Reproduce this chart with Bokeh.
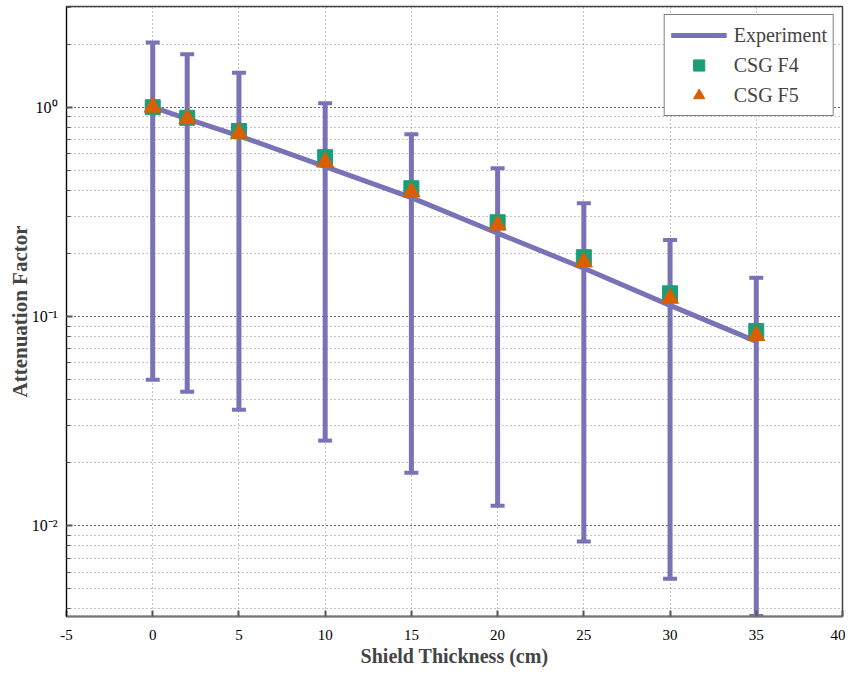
from bokeh.plotting import figure
from bokeh.models import (ColumnDataSource, Whisker, TeeHead, LogTicker, SingleIntervalTicker,
                          CustomJSTickFormatter, Legend, LegendItem, Range1d)
from bokeh.embed import file_html
from bokeh.resources import INLINE

thickness = [0, 2, 5, 10, 15, 20, 25, 30, 35]
experiment = [1.0, 0.88, 0.73, 0.52, 0.37, 0.25, 0.17, 0.113, 0.076]
err_upper = [2.04, 1.79, 1.46, 1.045, 0.743, 0.511, 0.348, 0.232, 0.153]
err_lower = [0.0498, 0.0436, 0.0358, 0.0255, 0.0179, 0.01245, 0.00839, 0.00558, 0.0037]
csg_f4 = [1.0, 0.89, 0.77, 0.577, 0.41, 0.282, 0.192, 0.129, 0.0853]
csg_f5 = [1.0, 0.88, 0.75, 0.546, 0.393, 0.273, 0.182, 0.122, 0.081]

PURPLE = "#7873b7"
GREEN = "#1b9e77"
ORANGE = "#d95f02"
FONT = "Liberation Serif"

src = ColumnDataSource(dict(x=thickness, exp=experiment, up=err_upper, lo=err_lower,
                            f4=csg_f4, f5=csg_f5))

p = figure(output_backend="svg", toolbar_location=None, y_axis_type="log",
           frame_width=776, frame_height=610,
           x_range=Range1d(-5, 40), y_range=Range1d(0.00368, 3.03),
           min_border_left=66, min_border_right=3, min_border_top=6, min_border_bottom=0)
p.outline_line_color = "#444444"
p.outline_line_width = 1.5
p.background_fill_color = "white"
p.border_fill_color = "white"

whisk = Whisker(base="x", upper="up", lower="lo", source=src,
                line_color=PURPLE, line_width=5,
                upper_head=TeeHead(size=14, line_color=PURPLE, line_width=4),
                lower_head=TeeHead(size=14, line_color=PURPLE, line_width=4))
p.add_layout(whisk)

r_exp = p.line("x", "exp", source=src, line_color=PURPLE, line_width=5)
r_f4 = p.scatter("x", "f4", source=src, marker="square", size=15,
                 fill_color=GREEN, line_color=GREEN)
r_f5 = p.scatter("x", "f5", source=src, marker="triangle", size=17,
                 fill_color=ORANGE, line_color=ORANGE)

# axes
xt = SingleIntervalTicker(interval=5, num_minor_ticks=0)
p.xaxis.ticker = xt
p.xgrid.ticker = xt
yt = LogTicker(num_minor_ticks=10)
p.yaxis.ticker = yt
p.ygrid.ticker = yt

p.xaxis.formatter = CustomJSTickFormatter(code="return String(Math.round(tick));")
p.yaxis.formatter = CustomJSTickFormatter(code="""
const e = Math.round(Math.log10(tick));
const sup = {'0':'\u2070','1':'\u00b9','2':'\u00b2','3':'\u00b3','-':'\u207b'};
return '10' + String(e).split('').map(c => sup[c]).join('');
""")

for ax in p.xaxis:
    ax.axis_label = "Shield Thickness (cm)"
    ax.axis_line_color = "#777777"
    ax.axis_line_width = 2
    ax.major_tick_in = 6
    ax.major_tick_out = 0
    ax.major_tick_line_color = "#555555"
    ax.major_tick_line_width = 2
    ax.major_label_text_font = FONT
    ax.major_label_text_font_size = "15px"
    ax.major_label_text_color = "black"
    ax.major_label_standoff = 13
    ax.axis_label_text_font = FONT
    ax.axis_label_text_font_size = "20px"
    ax.axis_label_text_font_style = "bold"
    ax.axis_label_standoff = 2

for ax in p.yaxis:
    ax.axis_label = "Attenuation Factor"
    ax.axis_line_color = "black"
    ax.axis_line_width = 1
    ax.major_tick_in = 6
    ax.major_tick_out = 0
    ax.minor_tick_in = 4
    ax.minor_tick_out = 0
    ax.major_tick_line_color = "#555555"
    ax.minor_tick_line_color = "#555555"
    ax.major_tick_line_width = 2
    ax.major_label_text_font = FONT
    ax.major_label_text_font_size = "16px"
    ax.major_label_text_color = "black"
    ax.major_label_standoff = 9
    ax.axis_label_text_font = FONT
    ax.axis_label_text_font_size = "21px"
    ax.axis_label_text_font_style = "bold"
    ax.axis_label_standoff = -3

# grid
p.xgrid.grid_line_color = "#888888"
p.xgrid.grid_line_dash = "1 3"
p.ygrid.grid_line_color = "#222222"
p.ygrid.grid_line_dash = "1 3"
p.ygrid.minor_grid_line_color = "#888888"
p.ygrid.minor_grid_line_dash = "1 3"

legend = Legend(items=[LegendItem(label="Experiment", renderers=[r_exp]),
                       LegendItem(label="CSG F4", renderers=[r_f4]),
                       LegendItem(label="CSG F5", renderers=[r_f5])],
                location="top_right")
legend.margin = 8
legend.padding = 6
legend.spacing = 2
legend.label_text_font = FONT
legend.label_text_font_size = "20px"
legend.label_height = 28
legend.glyph_height = 28
legend.glyph_width = 56
legend.label_standoff = 7
legend.border_line_color = "black"
legend.border_line_width = 1
legend.background_fill_alpha = 1
p.add_layout(legend)

open("out.html", "w").write(file_html(p, INLINE))
